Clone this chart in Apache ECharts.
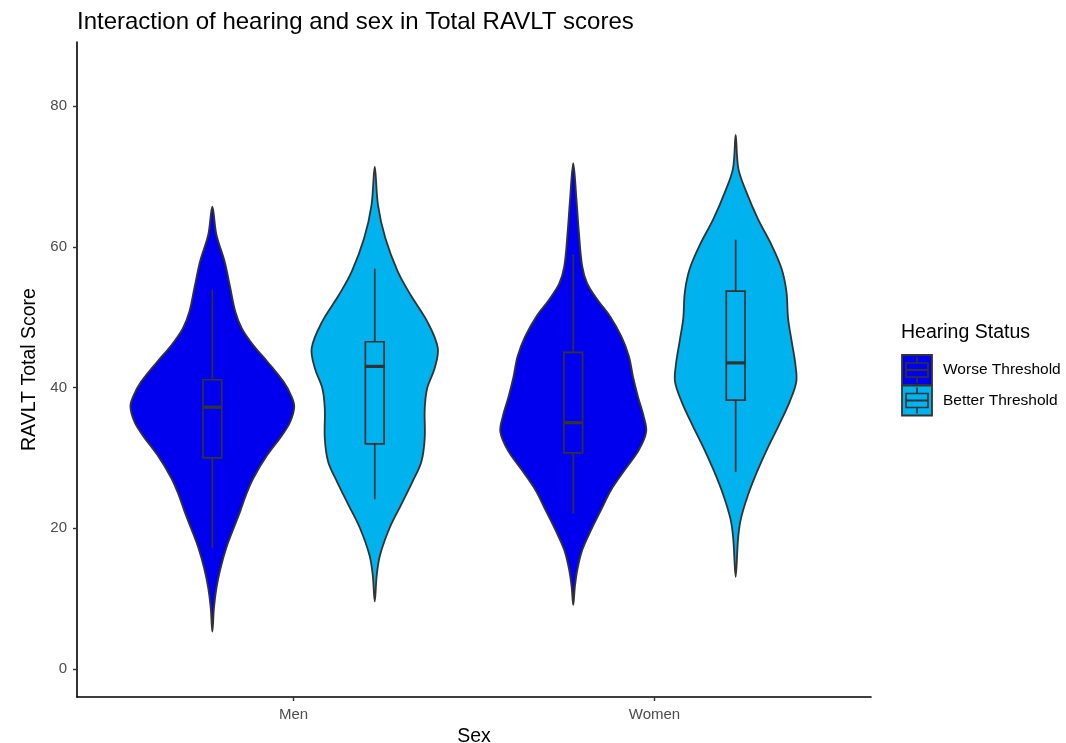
<!DOCTYPE html>
<html>
<head>
<meta charset="utf-8">
<script src="https://cdn.jsdelivr.net/npm/echarts@6/dist/echarts.min.js"></script>
<style>
html,body{margin:0;padding:0;background:#fff;}
#chart{width:1066px;height:743px;}
</style>
</head>
<body>
<div id="chart"></div>
<script>
// ---------- data ----------
const sexes = ['Men', 'Women'];
const groups = ['Worse Threshold', 'Better Threshold'];
const groupColors = ['#0000EE', '#00B2EE'];
const yTicks = [0, 20, 40, 60, 80];

// violin profiles: score values and scaled density (1 = widest violin)
const menWorseY = [65.7, 61.7, 57.9, 54.1, 50.8, 48.4, 46.0, 43.7, 40.8, 38.9, 37.3, 35.1, 33.2, 30.4, 27.1, 24.7, 22.4, 20.0, 17.2, 14.3, 11.5, 8.7, 5.3];
const menWorseD = [0, 0.05, 0.15, 0.22, 0.28, 0.36, 0.50, 0.67, 0.87, 0.96, 1.00, 0.95, 0.85, 0.67, 0.50, 0.41, 0.34, 0.26, 0.17, 0.10, 0.05, 0.02, 0];

const menBetterY = [71.4, 65.9, 61.2, 56.5, 53.1, 49.4, 45.6, 42.7, 39.9, 37.0, 32.8, 29.5, 26.6, 23.3, 20.0, 16.2, 13.4, 9.6];
const menBetterD = [0, 0.04, 0.13, 0.28, 0.44, 0.64, 0.77, 0.73, 0.64, 0.61, 0.61, 0.57, 0.46, 0.32, 0.18, 0.065, 0.025, 0];

const womenWorseY = [71.9, 66.6, 61.9, 57.2, 54.8, 52.4, 50.1, 47.2, 44.4, 41.5, 38.7, 35.9, 33.7, 31.1, 28.3, 25.4, 22.6, 19.8, 16.9, 14.1, 11.7, 9.1];
const womenWorseD = [0, 0.04, 0.07, 0.11, 0.17, 0.30, 0.45, 0.59, 0.68, 0.73, 0.79, 0.86, 0.89, 0.80, 0.63, 0.46, 0.34, 0.22, 0.11, 0.05, 0.02, 0];

const womenBetterY = [75.9, 71.1, 67.8, 64.0, 60.2, 56.9, 53.6, 49.8, 46.5, 43.2, 40.8, 38.0, 34.7, 31.4, 28.0, 24.7, 21.4, 18.6, 13.1];
const womenBetterD = [0, 0.033, 0.13, 0.27, 0.44, 0.56, 0.62, 0.64, 0.685, 0.73, 0.74, 0.66, 0.53, 0.39, 0.26, 0.15, 0.065, 0.03, 0];

// box stats: [lower whisker, Q1, median, Q3, upper whisker]
const menWorseBox = [17.2, 30.0, 37.2, 41.1, 53.9];
const menBetterBox = [24.1, 32.0, 43.0, 46.5, 56.9];
const womenWorseBox = [22.1, 30.7, 35.0, 45.0, 58.9];
const womenBetterBox = [28.0, 38.2, 43.5, 53.7, 61.0];

// ---------- assembly ----------
const violins = [
  [ {y: menWorseY, d: menWorseD, box: menWorseBox}, {y: womenWorseY, d: womenWorseD, box: womenWorseBox} ],
  [ {y: menBetterY, d: menBetterD, box: menBetterBox}, {y: womenBetterY, d: womenBetterD, box: womenBetterBox} ]
];
const DODGE = [-0.225, 0.225];
const MAXHW = 0.227;
const BOXHW = 0.026;
const OUTLINE = '#333333';

function makeRender(g) {
  return function (params, api) {
    const v = violins[g][params.dataIndex];
    const cx = api.value(0) + DODGE[g];
    const pts = [];
    for (let i = 0; i < v.y.length; i++) pts.push(api.coord([cx + v.d[i] * MAXHW, v.y[i]]));
    for (let i = v.y.length - 2; i >= 1; i--) pts.push(api.coord([cx - v.d[i] * MAXHW, v.y[i]]));
    const b = v.box;
    const pLo = api.coord([cx, b[0]]), pQ1 = api.coord([cx, b[1]]), pMed = api.coord([cx, b[2]]),
          pQ3 = api.coord([cx, b[3]]), pHi = api.coord([cx, b[4]]);
    const xl = api.coord([cx - BOXHW, b[2]])[0], xr = api.coord([cx + BOXHW, b[2]])[0];
    return {
      type: 'group',
      children: [
        { type: 'polygon', shape: { points: pts, smooth: 0.35 },
          style: { fill: groupColors[g], stroke: OUTLINE, lineWidth: 1.8 } },
        { type: 'line', shape: { x1: pHi[0], y1: pHi[1], x2: pQ3[0], y2: pQ3[1] },
          style: { stroke: OUTLINE, lineWidth: 1.7 } },
        { type: 'line', shape: { x1: pQ1[0], y1: pQ1[1], x2: pLo[0], y2: pLo[1] },
          style: { stroke: OUTLINE, lineWidth: 1.7 } },
        { type: 'rect', shape: { x: xl, y: pQ3[1], width: xr - xl, height: pQ1[1] - pQ3[1] },
          style: { fill: groupColors[g], stroke: OUTLINE, lineWidth: 1.7 } },
        { type: 'line', shape: { x1: xl, y1: pMed[1], x2: xr, y2: pMed[1] },
          style: { stroke: OUTLINE, lineWidth: 3.2 } }
      ]
    };
  };
}

const FONT = '"Liberation Sans", Arial, sans-serif';

// legend graphics
const legendEls = [
  { type: 'text', left: 901, top: 323,
    style: { text: 'Hearing Status', font: '19.5px ' + FONT, fill: '#000' } }
];
groups.forEach(function (name, i) {
  const x0 = 902, y0 = 355 + i * 30.5, s = 30;
  legendEls.push({ type: 'rect', shape: { x: x0, y: y0, width: s, height: s },
    style: { fill: groupColors[i], stroke: OUTLINE, lineWidth: 1.8 } });
  legendEls.push({ type: 'line', shape: { x1: x0 + s / 2, y1: y0 + 2, x2: x0 + s / 2, y2: y0 + 8 },
    style: { stroke: OUTLINE, lineWidth: 1.6 } });
  legendEls.push({ type: 'line', shape: { x1: x0 + s / 2, y1: y0 + 22, x2: x0 + s / 2, y2: y0 + 28 },
    style: { stroke: OUTLINE, lineWidth: 1.6 } });
  legendEls.push({ type: 'rect', shape: { x: x0 + 4, y: y0 + 8, width: s - 8, height: 14 },
    style: { fill: groupColors[i], stroke: OUTLINE, lineWidth: 1.6 } });
  legendEls.push({ type: 'line', shape: { x1: x0 + 4, y1: y0 + 15, x2: x0 + s - 4, y2: y0 + 15 },
    style: { stroke: OUTLINE, lineWidth: 2 } });
  legendEls.push({ type: 'text', left: 943, top: y0 + 7,
    style: { text: name, font: '15.5px ' + FONT, fill: '#000' } });
});

const chart = echarts.init(document.getElementById('chart'), null, { renderer: 'canvas' });
chart.setOption({
  animation: false,
  backgroundColor: '#ffffff',
  title: {
    text: 'Interaction of hearing and sex in Total RAVLT scores',
    left: 72, top: 5,
    textStyle: { fontFamily: FONT, fontSize: 24, fontWeight: 'normal', color: '#000' }
  },
  grid: { left: 77, right: 195, top: 42, bottom: 46, containLabel: false, outerBoundsMode: 'none' },
  xAxis: {
    type: 'value', min: 0.4, max: 2.6,
    name: 'Sex', nameLocation: 'middle', nameGap: 26,
    nameTextStyle: { fontFamily: FONT, fontSize: 19.5, color: '#000' },
    axisLine: { onZero: false, lineStyle: { color: '#000', width: 1.6 } },
    axisTick: { show: true, length: 4, customValues: [1, 2], lineStyle: { color: '#333', width: 1.4 } },
    axisLabel: { customValues: [1, 2], margin: 10, fontFamily: FONT, fontSize: 15, color: '#4D4D4D',
      formatter: function (v) { return sexes[Math.round(v) - 1]; } },
    splitLine: { show: false }
  },
  yAxis: {
    type: 'value', min: -3.98, max: 89.1,
    name: 'RAVLT Total Score', nameLocation: 'middle', nameGap: 32, nameRotate: 90,
    nameTextStyle: { fontFamily: FONT, fontSize: 19.5, color: '#000' },
    axisLine: { onZero: false, lineStyle: { color: '#000', width: 1.6 } },
    axisTick: { show: true, length: 4, customValues: yTicks, lineStyle: { color: '#333', width: 1.4 } },
    axisLabel: { customValues: yTicks, margin: 10, fontFamily: FONT, fontSize: 15, color: '#4D4D4D' },
    splitLine: { show: false }
  },
  graphic: legendEls,
  series: groups.map(function (name, g) {
    return {
      type: 'custom', name: name,
      renderItem: makeRender(g),
      data: sexes.map(function (s, i) { return [i + 1]; }),
      encode: { x: 0 },
      silent: true,
      clip: true
    };
  })
});
</script>
</body>
</html>
